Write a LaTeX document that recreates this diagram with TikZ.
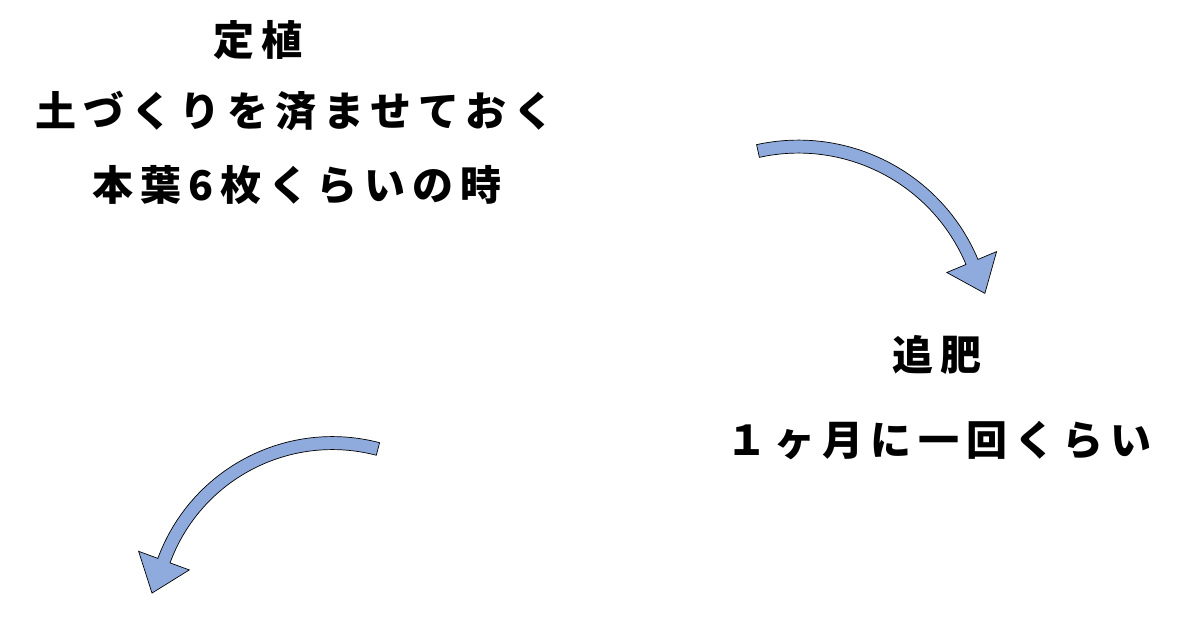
\documentclass[tikz,border=0pt]{standalone}
\usepackage{fontspec}
\newfontfamily\jpfont[LetterSpace=17]{Noto Sans CJK JP}
\usetikzlibrary{calc}
\definecolor{arrowblue}{HTML}{8FAADC}

\begin{document}
\begin{tikzpicture}[x=1pt, y=1pt,
    steptext/.style={font=\jpfont\bfseries\fontsize{41}{44}\selectfont, inner sep=0pt},
    bendarrow/.style={fill=arrowblue, draw=black, line width=0.7pt, line join=miter}]
    \useasboundingbox (0,0) rectangle (1200,630);

    % Planting
    \node[steptext] (teishoku) at (258,590) {定植};
    \node[steptext] (tsuchi) at (295,519) {土づくりを済ませておく};
    \node[steptext] (honba) at (297,445) {本葉6枚くらいの時};

    % Top dressing
    \node[steptext] (tsuihi) at (937,275) {追肥};
    \node[steptext] (ikkai) at (939,189) {１ヶ月に一回くらい};

    % Arrow towards top dressing
    \coordinate (c1) at (798.4,295.1);
    \draw[bendarrow] ($(c1)+(102.4:194.8)$) arc[start angle=102.4, end angle=22.8, radius=194.8]
        -- ($(c1)+(22.8:215)$) -- ($(c1)+(22.8:188)+(-67.2:34)$) -- ($(c1)+(22.8:161)$)
        -- ($(c1)+(22.8:181.8)$) arc[start angle=22.8, end angle=102.4, radius=181.8] -- cycle;

    % Arrow back round
    \coordinate (c2) at (332.4,7.4);
    \draw[bendarrow] ($(c2)+(75.3:186)$) arc[start angle=75.3, end angle=159.8, radius=186]
        -- ($(c2)+(159.8:206.5)$) -- ($(c2)+(159.8:179.5)+(249.8:34.6)$) -- ($(c2)+(159.8:152.5)$)
        -- ($(c2)+(159.8:173)$) arc[start angle=159.8, end angle=75.3, radius=173] -- cycle;
\end{tikzpicture}
\end{document}
